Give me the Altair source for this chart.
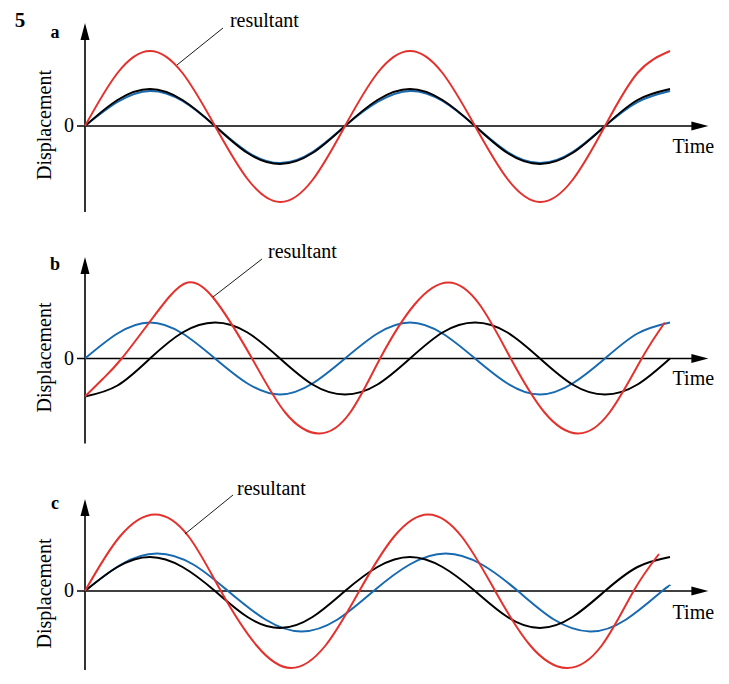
import altair as alt
import pandas as pd

# ---------------- data ----------------
# time in units of a quarter period of the black wave; displacement in px-like units
T_HALF = [0, 0.5, 1, 1.5, 2, 2.5, 3, 3.5, 4, 4.5, 5, 5.5, 6, 6.5, 7, 7.5, 8, 8.5, 9]

# panel a
A_BLUE = [0, 24, 35, 25, 0, -26, -37, -26, 0, 24, 35, 25, 0, -26, -37, -26, 0, 24, 35]
A_BLACK = [0, 26, 37, 26, 0, -27, -38, -27, 0, 26, 37, 26, 0, -27, -38, -27, 0, 26, 37]
A_RED = [0, 53, 75, 53, 0, -53, -76, -54, 0, 53, 75, 53, 0, -53, -76, -54, 0, 53, 75]

# panel b
B_BLUE = [0, 25, 36, 25, 0, -25, -36, -25, 0, 25, 36, 25, 0, -25, -36, -25, 0, 25, 36]
B_BLACK = [-38, -27, 0, 26, 36, 26, 0, -26, -36, -26, 0, 26, 36, 26, 0, -26, -36, -26, 0]
B_RED_T = [0, 0.28, 0.565, 1.0, 1.3, 1.58, 1.97, 2.57, 3.08, 3.6, 4.08, 4.54, 5.07,
           5.59, 6.07, 6.55, 7.07, 7.58, 8.07, 8.565, 8.92]
B_RED = [-38, -20, 0, 37, 62, 76, 61, 0, -54, -75, -54, 0, 54, 76, 54, 0, -54, -75, -54, 0, 36]

# panel c
C_BLACK = [0, 24, 34, 24, 0, -26, -37, -26, 0, 24, 34, 24, 0, -26, -37, -26, 0, 24, 34]
C_BLUE_T = [0, 0.555, 1.11, 1.665, 2.2, 2.775, 3.33, 3.885, 4.44, 4.995, 5.55, 6.105,
            6.66, 7.215, 7.77, 8.325, 8.88, 9.0]
C_BLUE = [0, 26.5, 37.5, 26.5, 0, -28.5, -40.5, -28.5, 0, 26.5, 37.5, 26.5, 0, -28.5,
          -40.5, -28.5, 0, 5]
C_RED_T = [0, 0.53, 1.08, 1.6, 2.09, 2.64, 3.17, 3.7, 4.22, 4.75, 5.28, 5.8, 6.31, 6.85,
           7.41, 7.95, 8.44, 8.83]
C_RED = [0, 54, 76.5, 54, 0, -54.5, -77, -54.5, 0, 54, 76.5, 54, 0, -54.5, -77, -54.5, 0, 37]

LETTERS = ["a", "b", "c"]
RESULTANT = "resultant"
X_LABEL = "Time"
Y_LABEL = "Displacement"
ZERO_LABEL = "0"
QUESTION = "5"

# ---------------- styling / layout ----------------
RED = "#e3322d"
BLUE = "#1769b0"
FONT = "Liberation Serif"
PX_PER_T = 65.0
ORIGIN_X = 85.0
LEFT = 8.0
W = 705
T_MIN = (LEFT - ORIGIN_X) / PX_PER_T
T_MAX = T_MIN + W / PX_PER_T
ARROW_R = "M0,0 L-1,-0.265 L-1,0.265 Z"
ARROW_U = "M0,0 L-0.265,1 L0.265,1 Z"
ARROW_SIZE = 1156
INTERP = "natural"

panels = [
    dict(letter="a", top=8, zero=126, h=233,
         series=[(T_HALF, A_BLUE, BLUE), (T_HALF, A_BLACK, "black"), (T_HALF, A_RED, RED)],
         yaxis=(-86, 103), letter_d=88, disp_d=1, time_d=-27,
         res=(2.23, 99), leader=(2.123, 98, 1.415, 61), five=True),
    dict(letter="b", top=241, zero=356.5, h=233,
         series=[(T_HALF, B_BLUE, BLUE), (T_HALF, B_BLACK, "black"), (B_RED_T, B_RED, RED)],
         yaxis=(-85, 101.5), letter_d=88.5, disp_d=1, time_d=-26.5,
         res=(2.815, 100.5), leader=(2.723, 99.5, 1.969, 61.5), five=False),
    dict(letter="c", top=474, zero=589, h=194,
         series=[(C_BLUE_T, C_BLUE, BLUE), (T_HALF, C_BLACK, "black"), (C_RED_T, C_RED, RED)],
         yaxis=(-79, 92), letter_d=82, disp_d=-2.5, time_d=-28,
         res=(2.338, 96), leader=(2.277, 96, 1.538, 57), five=False),
]


def make_panel(p):
    d_max = p["zero"] - p["top"]
    d_min = d_max - p["h"]
    xs = alt.Scale(domain=[T_MIN, T_MAX], nice=False, zero=False)
    ys = alt.Scale(domain=[d_min, d_max], nice=False, zero=False)

    def X(f):
        return alt.X(f, type="quantitative", scale=xs, axis=None)

    def Y(f):
        return alt.Y(f, type="quantitative", scale=ys, axis=None)

    layers = []
    # axis lines
    ax = pd.DataFrame({"t": [-0.123, 0], "t2": [9.45, 0],
                       "d": [0, max(p["yaxis"][0], d_min)], "d2": [0, p["yaxis"][1] - 10]})
    layers.append(alt.Chart(ax).mark_rule(color="black", strokeWidth=1.6).encode(
        x=X("t"), x2="t2", y=Y("d"), y2="d2"))
    # curves
    for ts, ds, col in p["series"]:
        df = pd.DataFrame({"t": ts, "d": ds})
        layers.append(alt.Chart(df).mark_line(color=col, strokeWidth=2, interpolate=INTERP)
                      .encode(x=X("t"), y=Y("d")))
    # arrow heads
    layers.append(alt.Chart(pd.DataFrame({"t": [9.59], "d": [0]})).mark_point(
        shape=ARROW_R, size=ARROW_SIZE, filled=True, color="black", opacity=1, strokeWidth=0
    ).encode(x=X("t"), y=Y("d")))
    layers.append(alt.Chart(pd.DataFrame({"t": [0], "d": [p["yaxis"][1]]})).mark_point(
        shape=ARROW_U, size=ARROW_SIZE, filled=True, color="black", opacity=1, strokeWidth=0
    ).encode(x=X("t"), y=Y("d")))
    # leader line
    t1, dd1, t2, dd2 = p["leader"]
    layers.append(alt.Chart(pd.DataFrame({"t": [t1], "d": [dd1], "t2": [t2], "d2": [dd2]}))
                  .mark_rule(color="black", strokeWidth=0.9)
                  .encode(x=X("t"), x2="t2", y=Y("d"), y2="d2"))

    # texts
    def txt(t, d, label, **kw):
        df = pd.DataFrame({"t": [t], "d": [d], "label": [label]})
        return alt.Chart(df).mark_text(font=FONT, color="black", **kw).encode(
            x=X("t"), y=Y("d"), text="label:N")

    layers.append(txt(p["res"][0], p["res"][1], RESULTANT, fontSize=20, align="left",
                      baseline="alphabetic"))
    layers.append(txt(9.04, p["time_d"], X_LABEL, fontSize=20, align="left",
                      baseline="alphabetic"))
    layers.append(txt(-0.17, 0, ZERO_LABEL, fontSize=20, align="right", baseline="middle"))
    layers.append(txt(-0.623, p["disp_d"], Y_LABEL, fontSize=20, align="center",
                      baseline="middle", angle=270))
    layers.append(txt(-0.4615, p["letter_d"], p["letter"], fontSize=18, fontWeight="bold",
                      align="center", baseline="alphabetic"))
    if p["five"]:
        layers.append(txt(-1.0, 99, QUESTION, fontSize=21, fontWeight="bold",
                          align="center", baseline="alphabetic"))
    return alt.layer(*layers).properties(width=W, height=p["h"])


chart = (
    alt.vconcat(*[make_panel(p) for p in panels], spacing=0)
    .resolve_scale(x="independent", y="independent")
    .properties(padding=0)
    .configure_view(stroke=None)
)

chart.save("out.html", embed_options={"renderer": "svg", "actions": False})
